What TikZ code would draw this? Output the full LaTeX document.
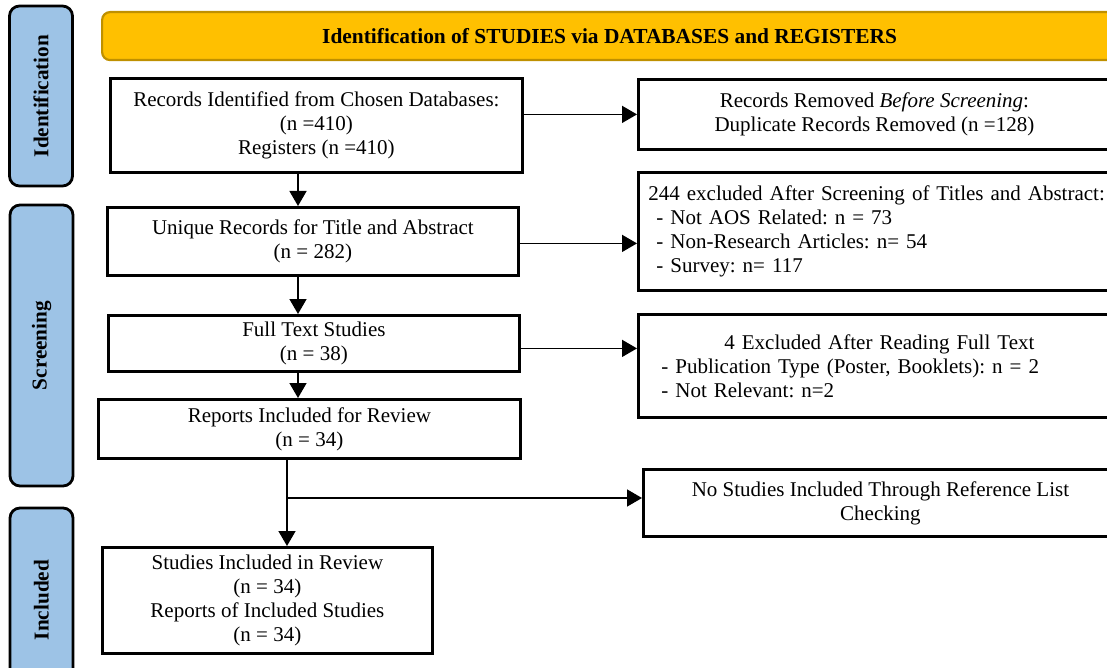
\documentclass[tikz,border=0pt]{standalone}
\usepackage{fontspec}
\setmainfont{Liberation Serif}
\usetikzlibrary{arrows.meta}
\definecolor{bannerfill}{HTML}{FFC000}
\definecolor{bannerline}{HTML}{BF9000}
\definecolor{phasefill}{HTML}{9DC3E6}
\tikzset{
  txt/.style={font=\fontsize{21}{24}\selectfont\frenchspacing},
  box/.style={txt, draw=black, line width=2.8pt, fill=white, inner sep=0pt,
    align=center, anchor=north west},
  leftbox/.style={box, align=left, inner xsep=10pt},
  phase/.style={draw=black, line width=2.8pt, fill=phasefill, rounded corners=10pt,
    rotate=90, inner sep=0pt, font=\fontsize{21.2}{24}\selectfont\bfseries},
  banner/.style={draw=bannerline, line width=2.2pt, fill=bannerfill, rounded corners=8pt,
    inner sep=0pt, anchor=north west, font=\fontsize{21.4}{24}\selectfont\bfseries},
  link/.style={line width=1.5pt, draw=black},
  arr/.style={link, -{Triangle[length=15pt,width=17pt]}},
}
\begin{document}
\begin{tikzpicture}[x=1pt, y=-1pt]
\useasboundingbox (0,0) rectangle (1107,668);

% phase labels on the left
\node[phase, minimum width=180pt, minimum height=63pt] (pid) at (41,96) {Identification};
\node[phase, minimum width=281pt, minimum height=63pt] (psc) at (41.5,345.5) {Screening};
\node[phase, minimum width=184pt, minimum height=63pt] (pin) at (41.5,600) {Included};

% header banner
\node[banner, minimum width=1015pt, minimum height=48pt] (head) at (101,11)
  {Identification of STUDIES via DATABASES and REGISTERS};

% main flow
\node[box, minimum width=412pt, minimum height=94pt] (b1) at (109,77)
  {Records Identified from Chosen Databases:\\(n =410)\\Registers (n =410)};
\node[box, minimum width=411pt, minimum height=68pt] (b2) at (106,206)
  {Unique Records for Title and Abstract\\(n = 282)};
\node[box, minimum width=411pt, minimum height=56pt] (b3) at (107,314)
  {Full Text Studies\\(n = 38)};
\node[box, minimum width=422pt, minimum height=59pt] (b4) at (97,398)
  {Reports Included for Review\\(n = 34)};
\node[box, minimum width=330pt, minimum height=106pt] (b5) at (101,546)
  {Studies Included in Review\\(n = 34)\\Reports of Included Studies\\(n = 34)};

% exclusion boxes
\node[box, minimum width=472pt, minimum height=70pt] (r1) at (637,78)
  {Records Removed \emph{Before Screening}:\\Duplicate Records Removed (n =128)};
\node[leftbox, text width=480pt, minimum height=118pt] (r2) at (637,171)
  {244 excluded After Screening of Titles and Abstract:\\
   \hspace*{8pt}- Not AOS Related: n = 73\\
   \hspace*{8pt}- Non-Research Articles: n= 54\\
   \hspace*{8pt}- Survey: n= 117};
\node[leftbox, inner xsep=23pt, text width=428pt, minimum height=103pt] (r3) at (637,313)
  {\hspace*{63pt}4 Excluded After Reading Full Text\\
   - Publication Type (Poster, Booklets): n = 2\\
   - Not Relevant: n=2};
\node[box, minimum width=474pt, minimum height=67pt] (r4) at (642,468)
  {No Studies Included Through Reference List\\Checking};

% connectors
\coordinate (sp) at (298,0);
\coordinate (br) at (287,498);
\draw[arr] (b1.east |- r1.west) -- (r1.west);
\draw[arr] (b1.south -| sp) -- (b2.north -| sp);
\draw[arr] ([yshift=-2pt]b2.east) -- ([yshift=-2pt]b2.east -| r2.west);
\draw[arr] (b2.south -| sp) -- (b3.north -| sp);
\draw[arr] ([yshift=-5pt]b3.east) -- ([yshift=-5pt]b3.east -| r3.west);
\draw[arr] (b3.south -| sp) -- (b4.north -| sp);
\draw[link] (b4.south -| br) -- (br);
\draw[arr] (br) -- (b5.north -| br);
\draw[arr] (br) -- (br -| r4.west);
\end{tikzpicture}
\end{document}
